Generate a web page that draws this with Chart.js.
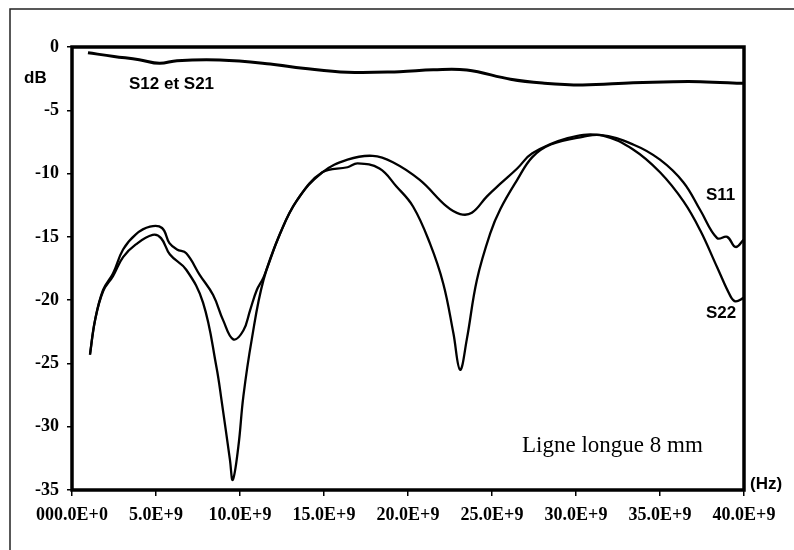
<!DOCTYPE html>
<html>
<head>
<meta charset="utf-8">
<script src="https://cdn.jsdelivr.net/npm/chart.js@4.4.0/dist/chart.umd.min.js"></script>
<style>
  html, body { margin: 0; padding: 0; background: #fff; }
  canvas { display: block; }
</style>
</head>
<body>
<canvas id="sparams" width="794" height="550"></canvas>
<script>
// frequency in GHz, magnitude in dB
const s21Freq = [0.95, 2.5, 4.0, 5.2, 6.25, 8.8, 11.8, 13.75, 16.4, 19.5, 21.5, 23.5, 26.1, 28.0, 30.4, 33.4, 35.8, 37.4, 40.0];
const s21Db = [-0.45, -0.75, -1.0, -1.29, -1.08, -1.03, -1.34, -1.68, -2.0, -1.95, -1.8, -1.82, -2.55, -2.85, -3.0, -2.82, -2.74, -2.74, -2.87];

const s11Freq = [1.07, 1.37, 1.85, 2.44, 3.04, 3.8, 4.64, 5.36, 5.8, 6.25,
  6.8, 7.6, 8.4, 9.0, 9.6, 10.2, 10.6, 11.0, 11.4, 12.4,
  13.4, 14.9, 16.4, 17.9, 19.1, 20.7, 22.3, 23.1, 23.8, 24.7,
  25.5, 26.5, 27.4, 29.5, 31.4, 33.4, 35.0, 36.4, 37.4, 38.4,
  39.0, 39.5, 40.0];
const s11Db = [-24.3, -21.6, -19.2, -17.9, -16.0, -14.8, -14.2, -14.3, -15.5, -16.0,
  -16.3, -18.0, -19.6, -21.6, -23.1, -22.4, -20.8, -19.2, -18.2, -14.7,
  -12.1, -9.9, -8.9, -8.6, -9.1, -10.5, -12.6, -13.2, -13.1, -11.8,
  -10.8, -9.6, -8.4, -7.2, -6.95, -7.7, -8.9, -10.7, -12.9, -15.1,
  -15.0, -15.8, -15.2];

const s22Freq = [1.07, 1.37, 1.85, 2.44, 3.04, 3.8, 4.8, 5.3, 5.83, 6.8,
  7.8, 8.6, 8.9, 9.4, 9.57, 9.9, 10.2, 10.7, 11.4, 12.4,
  13.4, 14.9, 16.4, 17.0, 18.3, 19.3, 20.3, 21.3, 22.1, 22.7,
  23.1, 23.5, 24.1, 24.9, 25.5, 26.5, 27.4, 28.5, 30.4, 31.6,
  33.4, 35.0, 36.4, 37.4, 38.4, 39.2, 39.5, 40.0];
const s22Db = [-24.3, -21.6, -19.3, -18.1, -16.6, -15.6, -14.85, -15.1, -16.4, -17.6,
  -20.2, -25.3, -27.9, -32.6, -34.2, -31.6, -27.6, -23.1, -18.4, -14.7,
  -12.1, -9.9, -9.5, -9.2, -9.6, -11.0, -12.6, -15.5, -18.7, -22.6,
  -25.5, -23.1, -18.4, -14.7, -12.8, -10.5, -8.7, -7.7, -7.1, -7.0,
  -8.1, -9.9, -12.2, -14.5, -17.4, -19.7, -20.1, -19.8];

const xTicks = [0, 5, 10, 15, 20, 25, 30, 35, 40];
const xTickLabels = ['000.0E+0', '5.0E+9', '10.0E+9', '15.0E+9', '20.0E+9', '25.0E+9', '30.0E+9', '35.0E+9', '40.0E+9'];

const toPoints = (xs, ys) => xs.map((x, i) => ({ x: x, y: ys[i] }));

// frame + free text labels written on the plot
const decorations = {
  id: 'decorations',
  afterDraw(chart) {
    const ctx = chart.ctx;
    const a = chart.chartArea;
    ctx.save();
    // outer scan frame
    ctx.strokeStyle = '#222';
    ctx.lineWidth = 1.5;
    ctx.beginPath();
    ctx.moveTo(10, 550);
    ctx.lineTo(10, 9);
    ctx.lineTo(794, 9);
    ctx.stroke();
    // plot box
    ctx.strokeStyle = '#000';
    ctx.lineWidth = 3.5;
    ctx.strokeRect(a.left, a.top, a.right - a.left, a.bottom - a.top);

    ctx.fillStyle = '#000';
    ctx.textBaseline = 'middle';
    ctx.textAlign = 'left';
    ctx.font = 'bold 17px "Liberation Sans", Arial, sans-serif';
    ctx.fillText('dB', 24, 78);
    ctx.fillText('S12 et S21', 129, 84);
    ctx.fillText('S11', 706, 195);
    ctx.fillText('S22', 706, 313);
    ctx.fillText('(Hz)', 750, 484);
    ctx.font = '23px "Liberation Serif", "Times New Roman", serif';
    ctx.fillText('Ligne longue 8 mm', 522, 446);
    ctx.restore();
  }
};

const lineStyle = {
  borderColor: '#000',
  pointRadius: 0,
  fill: false,
  tension: 0.4
};

new Chart(document.getElementById('sparams'), {
  type: 'line',
  data: {
    datasets: [
      Object.assign({ label: 'S12 et S21', data: toPoints(s21Freq, s21Db), borderWidth: 3 }, lineStyle),
      Object.assign({ label: 'S11', data: toPoints(s11Freq, s11Db), borderWidth: 2.3 }, lineStyle),
      Object.assign({ label: 'S22', data: toPoints(s22Freq, s22Db), borderWidth: 2.3 }, lineStyle)
    ]
  },
  options: {
    responsive: false,
    animation: false,
    layout: { padding: { top: 47, right: 50, left: 0, bottom: 0 } },
    plugins: { legend: { display: false }, tooltip: { enabled: false } },
    scales: {
      x: {
        type: 'linear',
        min: 0,
        max: 40,
        afterFit: s => { s.height = 60; },
        afterBuildTicks: s => { s.ticks = xTicks.map(v => ({ value: v })); },
        border: { display: false },
        grid: { drawOnChartArea: false, drawTicks: true, tickLength: 6, color: '#000', lineWidth: 1.5 },
        ticks: {
          color: '#000',
          padding: 9,
          maxRotation: 0,
          autoSkip: false,
          font: { family: '"Liberation Serif", "Times New Roman", serif', size: 18, weight: 'bold' },
          callback: v => xTickLabels[xTicks.indexOf(v)]
        }
      },
      y: {
        min: -35,
        max: 0,
        afterFit: s => { s.width = 72; },
        border: { display: false },
        grid: { drawOnChartArea: false, drawTicks: true, tickLength: 5, color: '#000', lineWidth: 1.5 },
        ticks: {
          stepSize: 5,
          color: '#000',
          padding: 8,
          font: { family: '"Liberation Serif", "Times New Roman", serif', size: 18, weight: 'bold' }
        }
      }
    }
  },
  plugins: [decorations]
});
</script>
</body>
</html>
